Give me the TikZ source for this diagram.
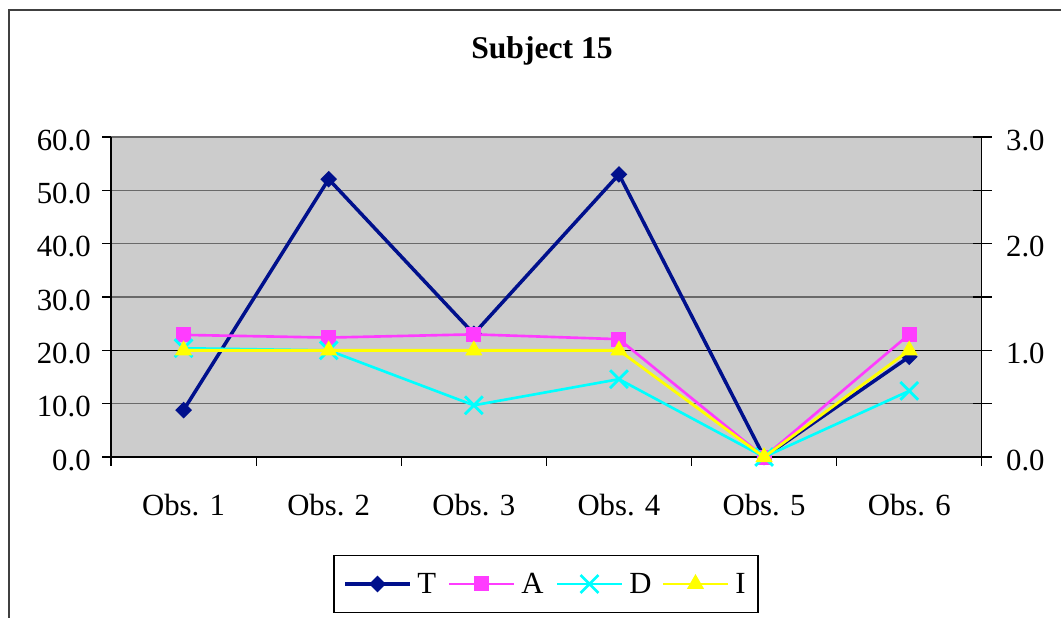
\documentclass[tikz,border=0pt]{standalone}
\usepackage{fontspec}
\setmainfont{Liberation Serif}
\usetikzlibrary{shapes.geometric,shapes.misc}

\definecolor{tcol}{RGB}{0,16,140}
\definecolor{acol}{RGB}{255,60,255}
\definecolor{dcol}{RGB}{0,255,255}
\definecolor{icol}{RGB}{255,255,0}
\definecolor{plotbg}{RGB}{204,204,204}
\definecolor{gridcol}{RGB}{105,105,105}
\definecolor{framecol}{RGB}{64,64,64}

\tikzset{
	axislabel/.style={inner sep=0pt, font=\fontsize{17.5}{20}\selectfont},
	T line/.style={draw=tcol, line width=2pt, line join=round},
	A line/.style={draw=acol, line width=1.5pt, line join=round},
	D line/.style={draw=dcol, line width=1.5pt, line join=round},
	I line/.style={draw=icol, line width=1.6pt, line join=round},
	T mark/.style={diamond, fill=tcol, inner sep=0pt, minimum size=0.34cm},
	A mark/.style={rectangle, fill=acol, inner sep=0pt, minimum size=0.3cm},
	D mark/.style={cross out, draw=dcol, line width=1.6pt, inner sep=0pt, minimum size=0.3cm},
	I mark/.style={regular polygon, regular polygon sides=3, fill=icol, inner sep=0pt, minimum size=0.4cm}
}

\begin{document}
\begin{tikzpicture}[x=0.02cm, y=0.02cm]
	\useasboundingbox (0,0) rectangle (1061,618);
	% chart frame, cut off at right and bottom
	\draw[framecol, line width=0.6pt] (9,0) -- (9,608) -- (1061,608);
	\node (title) [anchor=base, inner sep=0pt, font=\fontsize{18}{22}\selectfont\bfseries] at (542,559) {Subject 15};

	\begin{scope}[xshift=2.22cm, yshift=3.22cm, x=2.9033cm, y=0.10667cm]
		\fill[plotbg] (0,0) rectangle (6,60);
		\foreach \v in {10,30,40,50,60}
			\draw[gridcol, line width=0.8pt] (0,\v) -- (6,\v);
		\draw[black, line width=0.7pt] (0,20) -- (6,20);
		\draw[black, line width=0.7pt] (0,60) -- (0,0) -- (6,0) -- (6,60);
		% ticks and labels
		\foreach \v in {0,10,...,60} {
			\draw[line width=0.7pt] (0,\v) -- ++(-0.18cm,0);
			\draw[line width=0.7pt] (6,\v) ++(-0.18cm,0) -- ++(0.38cm,0);
			\node (yl\v) [axislabel, anchor=base east] at ([xshift=-0.4cm, yshift=-0.26cm]0,\v) {\v.0};
		}
		\foreach \v/\r in {0/0,20/1,40/2,60/3}
			\node (yr\r) [axislabel, anchor=base west] at ([xshift=0.48cm, yshift=-0.26cm]6,\v) {\r.0};
		\foreach \i in {0,...,6}
			\draw[line width=0.7pt] (\i,0) -- ++(0,-0.17cm);
		\foreach \i in {1,...,6}
			\node (xl\i) [axislabel, anchor=base] at ([yshift=-1.16cm]\i-0.5,0) {Obs. \i};

		% data
		\foreach \v [count=\i] in {8.8,52.1,23.1,53.0,0,18.8}
			\coordinate (T\i) at (\i-0.5,\v);
		\foreach \v [count=\i] in {22.9,22.4,23.0,22.1,0,23.0}
			\coordinate (A\i) at (\i-0.5,\v);
		\foreach \v [count=\i] in {20.4,20.0,9.7,14.6,0,12.4}
			\coordinate (D\i) at (\i-0.5,\v);
		\foreach \v [count=\i] in {20,20,20,20,0,20}
			\coordinate (I\i) at (\i-0.5,\v);

		\foreach \s in {T,A,D,I} {
			\draw[\s\space line] (\s1) -- (\s2) -- (\s3) -- (\s4) -- (\s5) -- (\s6);
			\foreach \i in {1,...,6}
				\node (\s m\i) [\s\space mark] at (\s\i) {};
		}
	\end{scope}

	% legend
	\node (legend) [draw, line width=0.7pt, minimum width=8.48cm, minimum height=1.13cm, inner sep=0pt] at (546,34) {};
	\foreach \s/\x in {T/345,A/449,D/557,I/663} {
		\coordinate (\s a) at (\x,34);
		\coordinate (\s b) at (\x+65,34);
		\draw[\s\space line] (\s a) -- (\s b);
		\node (\s k) [\s\space mark] at (\x+32.5,34) {};
		\node (\s t) [axislabel, anchor=base west] at (\x+72,24) {\s};
	}
\end{tikzpicture}
\end{document}
